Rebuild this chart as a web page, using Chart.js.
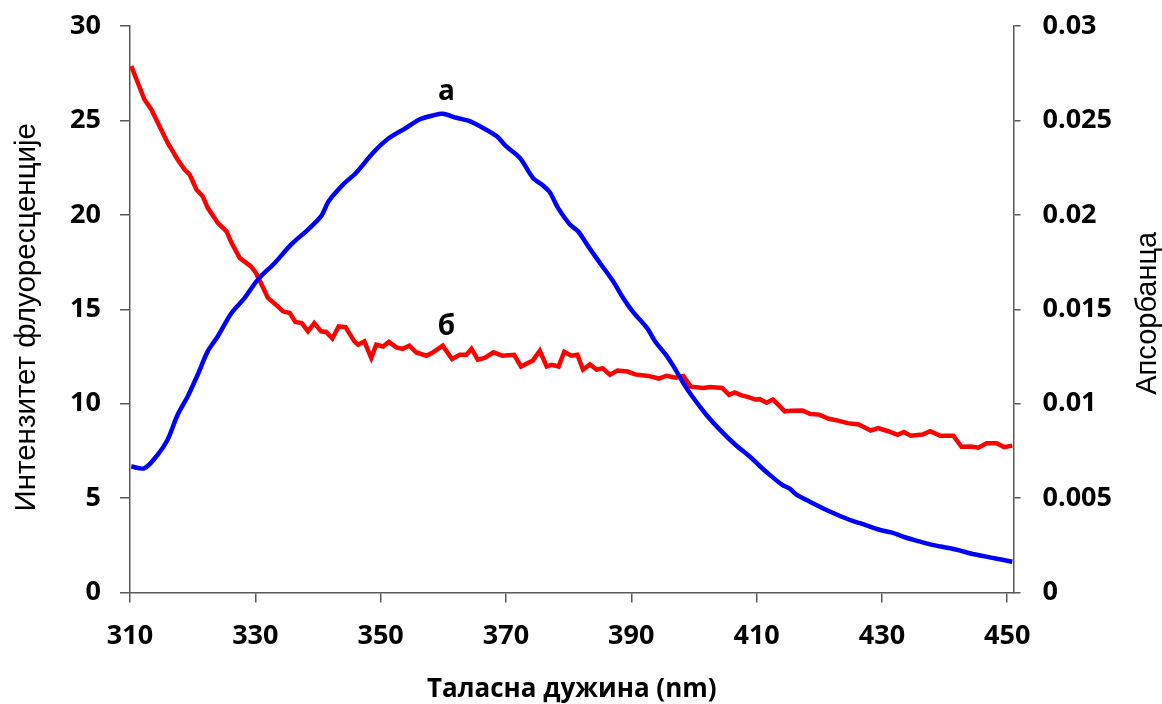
<!DOCTYPE html>
<html>
<head>
<meta charset="utf-8">
<script src="https://cdn.jsdelivr.net/npm/chart.js@4"></script>
<style>
  html, body { margin: 0; padding: 0; background: #ffffff; }
  canvas { display: block; }
</style>
</head>
<body>
<canvas id="c" width="1162" height="704"></canvas>
<script>
// ---- data ----
const xTickValues = [310, 330, 350, 370, 390, 410, 430, 450];
const leftTickValues = [0, 5, 10, 15, 20, 25, 30];
const rightTickValues = [0, 0.005, 0.01, 0.015, 0.02, 0.025, 0.03];
const rightTickLabels = ['0', '0.005', '0.01', '0.015', '0.02', '0.025', '0.03'];

const xTitle = 'Таласна дужина (nm)';
const leftTitle = 'Интензитет флуоресценције';
const rightTitle = 'Апсорбанца';

// curve "а": fluorescence intensity (left axis)
const fluorNm = [310.2, 312.3, 314.4, 316.0, 317.6, 319.2, 320.8, 322.4, 324.0, 326.2, 328.3, 330.4,
  333.1, 335.7, 338.4, 340.5, 341.7, 344.0, 346.1, 348.8, 351.4, 354.1, 356.2, 358.3, 359.9,
  362.1, 364.2, 366.3, 368.5, 370.0, 372.2, 374.3, 375.9, 377.0, 378.3, 380.2, 381.5, 383.3,
  385.2, 387.1, 388.7, 390.3, 392.5, 393.9, 395.5, 396.8, 398.2, 399.8, 402.0, 404.2, 406.7,
  408.9, 410.5, 412.1, 414.1, 415.3, 416.3, 418.5, 421.5, 424.9, 426.5, 429.7, 431.5, 433.9,
  435.5, 437.7, 440.9, 442.5, 444.0, 447.2, 450.8];
const fluorInt = [6.67, 6.58, 7.29, 8.09, 9.41, 10.38, 11.53, 12.77, 13.56, 14.80, 15.60, 16.57,
  17.45, 18.42, 19.22, 19.93, 20.72, 21.60, 22.23, 23.29, 24.08, 24.61, 25.05, 25.26, 25.35,
  25.14, 24.96, 24.61, 24.17, 23.64, 23.02, 21.96, 21.55, 21.20, 20.37, 19.49, 19.13, 18.25,
  17.36, 16.48, 15.60, 14.85, 14.01, 13.25, 12.60, 11.95, 11.15, 10.35, 9.40, 8.60, 7.80,
  7.20, 6.70, 6.23, 5.70, 5.50, 5.20, 4.81, 4.32, 3.84, 3.67, 3.31, 3.18, 2.90,
  2.75, 2.55, 2.34, 2.22, 2.08, 1.86, 1.63];

// curve "б": absorbance (right axis)
const absNm = [310.2, 312.3, 313.4, 316.0, 317.6, 318.7, 319.5, 320.6, 321.6, 322.4, 324.0, 325.4,
  326.2, 327.5, 329.3, 330.1, 330.9, 332.0, 333.3, 334.4, 335.5, 336.4, 337.4, 338.4, 339.4,
  340.5, 341.3, 342.3, 343.3, 344.4, 345.8, 346.4, 347.4, 348.5, 349.3, 350.4, 351.3, 352.5,
  353.5, 354.6, 355.7, 357.3, 358.3, 359.9, 361.4, 362.6, 363.7, 364.5, 365.5, 366.6, 368.0,
  369.4, 371.3, 372.4, 374.3, 375.4, 376.5, 377.3, 378.4, 379.3, 380.4, 381.4, 382.3, 383.4,
  384.5, 385.4, 386.6, 387.8, 389.4, 390.6, 392.7, 394.4, 395.6, 397.1, 398.3, 399.5, 401.5,
  402.6, 404.5, 405.6, 406.5, 407.5, 408.7, 409.8, 410.5, 411.6, 412.6, 414.5, 415.5, 417.3,
  418.6, 420.0, 421.5, 423.0, 424.5, 426.3, 428.2, 429.4, 431.0, 432.5, 433.5, 434.6, 436.5,
  437.7, 439.3, 441.4, 442.7, 444.2, 445.4, 446.7, 448.3, 449.5, 450.8];
const absVal = [0.02788, 0.02611, 0.02558, 0.02382, 0.02293, 0.02240, 0.02214, 0.02134, 0.02099, 0.02037, 0.01958, 0.01913,
  0.01852, 0.01772, 0.01727, 0.01692, 0.01639, 0.01560, 0.01524, 0.01489, 0.01480, 0.01433, 0.01427, 0.01383, 0.01427,
  0.01383, 0.01380, 0.01345, 0.01409, 0.01405, 0.01330, 0.01312, 0.01330, 0.01242, 0.01312, 0.01303, 0.01327, 0.01298,
  0.01290, 0.01307, 0.01271, 0.01254, 0.01271, 0.01307, 0.01236, 0.01259, 0.01259, 0.01290, 0.01233, 0.01242, 0.01272,
  0.01254, 0.01259, 0.01197, 0.01229, 0.01280, 0.01197, 0.01206, 0.01197, 0.01275, 0.01254, 0.01259, 0.01180, 0.01208,
  0.01180, 0.01188, 0.01153, 0.01175, 0.01170, 0.01155, 0.01147, 0.01133, 0.01148, 0.01138, 0.01146, 0.01090, 0.01083,
  0.01088, 0.01083, 0.01047, 0.01060, 0.01045, 0.01035, 0.01022, 0.01024, 0.01005, 0.01022, 0.00959, 0.00963, 0.00964,
  0.00945, 0.00942, 0.00920, 0.00910, 0.00897, 0.00890, 0.00858, 0.00871, 0.00854, 0.00835, 0.00850, 0.00830, 0.00837,
  0.00854, 0.00830, 0.00830, 0.00772, 0.00773, 0.00767, 0.00790, 0.00790, 0.00770, 0.00778];

// curve labels placed in data coordinates (nm, left-axis value)
const curveLabels = [
  { text: 'а', nm: 360.5, value: 26.1 },
  { text: 'б', nm: 360.5, value: 13.65 }
];

// ---- chart ----
const axisColor = '#595959';
const tickFont = { family: 'Open Sans', size: 27, weight: 'bold' };

const extraText = {
  id: 'extraText',
  afterDraw(chart) {
    const ctx = chart.ctx;
    const xs = chart.scales.x, yl = chart.scales.y;
    const ca = chart.chartArea;
    ctx.save();
    ctx.fillStyle = '#000';
    ctx.font = 'bold 28px "Open Sans"';
    ctx.textAlign = 'center';
    ctx.textBaseline = 'alphabetic';
    curveLabels.forEach(l => {
      ctx.fillText(l.text, xs.getPixelForValue(l.nm), yl.getPixelForValue(l.value));
    });
    ctx.font = '29.5px "Liberation Sans"';
    ctx.textBaseline = 'middle';
    // left axis title, reading bottom to top
    ctx.save();
    ctx.translate(27, (ca.top + ca.bottom) / 2 + 8);
    ctx.rotate(-Math.PI / 2);
    ctx.fillText(leftTitle, 0, 0);
    ctx.restore();
    // right axis title, reading bottom to top
    ctx.save();
    ctx.font = '29px "Liberation Sans"';
    ctx.translate(1148, (ca.top + ca.bottom) / 2 + 4);
    ctx.rotate(-Math.PI / 2);
    ctx.fillText(rightTitle, 0, 0);
    ctx.restore();
    ctx.restore();
  }
};

function noPadV(s, w) { s.width = w; s.paddingTop = 0; s.paddingBottom = 0; }

new Chart(document.getElementById('c'), {
  type: 'line',
  data: {
    datasets: [
      {
        label: 'а',
        data: fluorNm.map((v, i) => ({ x: v, y: fluorInt[i] })),
        borderColor: '#0000FF',
        borderWidth: 4.5,
        pointRadius: 0,
        tension: 0.3,
        yAxisID: 'y'
      },
      {
        label: 'б',
        data: absNm.map((v, i) => ({ x: v, y: absVal[i] })),
        borderColor: '#FF0000',
        borderWidth: 4.5,
        pointRadius: 0,
        tension: 0,
        yAxisID: 'y2'
      }
    ]
  },
  options: {
    responsive: false,
    animation: false,
    devicePixelRatio: 1,
    layout: { padding: { top: 26, left: 0, right: 0, bottom: 0 } },
    plugins: { legend: { display: false }, tooltip: { enabled: false } },
    scales: {
      x: {
        type: 'linear',
        min: 310,
        max: 451,
        afterBuildTicks: s => { s.ticks = xTickValues.map(v => ({ value: v })); },
        afterFit: s => { s.height = 111.5; s.paddingLeft = 0; s.paddingRight = 0; },
        grid: { drawOnChartArea: false, drawTicks: true, tickLength: 10, color: axisColor, lineWidth: 1.5 },
        border: { display: true, color: axisColor, width: 1.5 },
        ticks: { font: tickFont, color: '#000', padding: 18, maxRotation: 0, autoSkip: false },
        title: { display: true, text: xTitle, color: '#000',
          font: { family: 'Open Sans', size: 26, weight: 'bold' }, padding: { top: 0, bottom: -1 } }
      },
      y: {
        position: 'left',
        min: 0,
        max: 30,
        afterBuildTicks: s => { s.ticks = leftTickValues.map(v => ({ value: v })); },
        afterFit: s => noPadV(s, 130),
        grid: { drawOnChartArea: false, drawTicks: true, tickLength: 10, color: axisColor, lineWidth: 1.5 },
        border: { display: true, color: axisColor, width: 1.5 },
        ticks: { font: tickFont, color: '#000', padding: 19 }
      },
      y2: {
        position: 'right',
        min: 0,
        max: 0.03,
        afterBuildTicks: s => { s.ticks = rightTickValues.map(v => ({ value: v })); },
        afterFit: s => noPadV(s, 148.5),
        grid: { drawOnChartArea: false, drawTicks: true, tickLength: 7, color: axisColor, lineWidth: 1.5 },
        border: { display: true, color: axisColor, width: 1.5 },
        ticks: { font: tickFont, color: '#000', padding: 22,
          callback: (v, i) => rightTickLabels[i] }
      }
    }
  },
  plugins: [extraText]
});
</script>
</body>
</html>
